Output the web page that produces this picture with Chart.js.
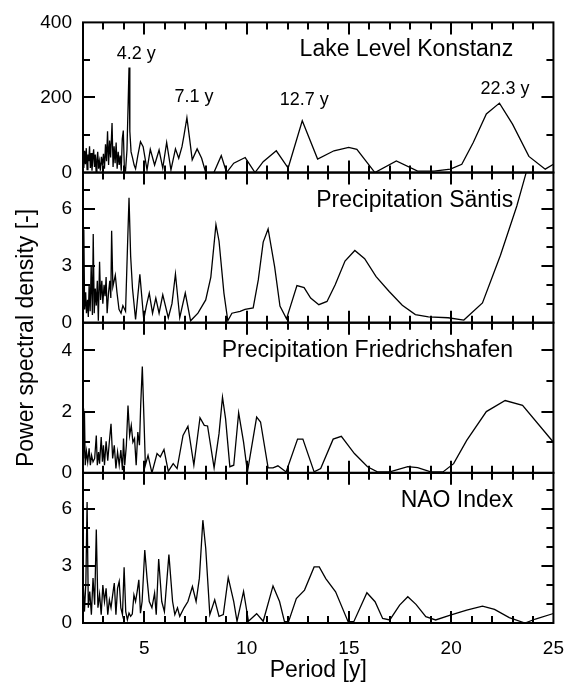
<!DOCTYPE html>
<html><head><meta charset="utf-8">
<script src="https://cdn.jsdelivr.net/npm/chart.js@4.4.1/dist/chart.umd.min.js"></script>
<style>html,body{margin:0;padding:0;background:#fff;}#wrap{position:relative;width:578px;height:686px;}</style>
</head><body><div id="wrap"><canvas id="c" width="578" height="686"></canvas></div>
<script>
// ---------- DATA ----------
const panelTitles = ['Lake Level Konstanz', 'Precipitation Säntis', 'Precipitation Friedrichshafen', 'NAO Index'];
const xTickLabels = [5, 10, 15, 20, 25];
const lakeTicks = [0, 200, 400];
const santisTicks = [0, 3, 6];
const friedTicks = [0, 2, 4];
const naoTicks = [0, 3, 6];
const peakLabels = ['4.2 y', '7.1 y', '12.7 y', '22.3 y'];

const lakePeriod = [2.00,2.04,2.08,2.12,2.16,2.20,2.24,2.28,2.32,2.36,2.40,2.44,2.48,2.52,2.56,2.60,2.64,2.68,2.72,2.76,2.80,2.85,2.90,2.95,3.00,3.05,3.10,3.15,3.20,3.25,3.30,3.35,3.42,3.47,3.52,3.57,3.62,3.67,3.72,3.77,3.82,3.87,3.92,3.97,4.02,4.08,4.15,4.21,4.25,4.29,4.35,4.42,4.50,4.57,4.68,4.81,4.94,5.13,5.29,5.50,5.72,5.90,6.09,6.30,6.52,6.68,6.84,6.94,7.08,7.21,7.34,7.58,7.80,8.00,8.40,8.76,9.02,9.37,9.93,10.41,10.81,11.45,12.03,12.72,13.47,14.27,14.99,15.39,16.27,17.32,18.36,19.16,19.96,20.52,21.08,21.72,22.36,23.00,23.80,24.60,25.00];
const lakePower  = [40,12,58,22,65,8,48,30,70,12,52,5,38,62,15,48,3,35,55,10,30,5,42,18,50,10,75,30,110,20,85,40,132,15,70,25,80,10,55,20,45,5,90,112,15,5,60,190,280,110,55,40,20,10,45,82,69,7,62,20,60,12,80,7,63,38,69,100,146,91,34,63,38,0,0,45,0,25,40,0,29,58,12,138,36,58,67,62,0,31,4,4,9,22,80,156,185,129,43,9,22];

const santisPeriod = [2.00,2.04,2.08,2.13,2.17,2.22,2.26,2.30,2.35,2.40,2.46,2.50,2.55,2.60,2.65,2.70,2.75,2.81,2.86,2.92,2.97,3.03,3.08,3.13,3.18,3.25,3.31,3.36,3.40,3.46,3.52,3.58,3.66,3.76,3.86,3.95,4.08,4.17,4.25,4.33,4.42,4.57,4.78,4.97,5.10,5.24,5.40,5.56,5.72,5.90,6.17,6.35,6.52,6.73,7.00,7.26,7.62,8.00,8.25,8.50,8.65,8.89,9.08,9.28,9.68,9.92,10.32,10.57,10.81,11.05,11.37,11.63,11.95,12.46,12.81,13.13,13.53,13.93,14.33,14.81,15.29,15.77,16.33,16.97,17.61,18.25,18.89,19.85,20.62,21.53,22.41,23.21,23.66,24.30];
const santisPower  = [2.9,4.9,0.7,1.6,0.5,1.2,0.3,2.0,0.6,3.0,0.4,4.67,0.5,1.8,0.9,2.2,0.1,3.2,1.2,2.2,1.0,2.0,1.4,2.4,0.5,1.6,2.2,1.3,4.84,1.9,2.2,2.5,1.6,0.7,0.5,0.9,0.6,3.8,6.57,3.5,1.8,0.17,2.54,0.17,0.9,1.56,0.5,1.3,0.5,1.47,0.26,1.0,2.56,0.26,1.56,0.1,0.5,1.2,2.4,5.16,4.3,1.56,0.1,0.5,0.6,0.7,0.78,2.25,4.24,4.93,2.94,0.87,0.2,1.95,1.85,1.3,0.95,1.12,2.0,3.24,3.8,3.37,2.42,1.64,0.92,0.43,0.31,0.26,0.14,1.04,3.55,6.14,7.87,10.0];

const friedPeriod = [2.00,2.03,2.07,2.11,2.17,2.23,2.30,2.36,2.42,2.49,2.57,2.65,2.70,2.76,2.81,2.89,2.95,3.00,3.05,3.13,3.21,3.29,3.37,3.45,3.53,3.61,3.69,3.77,3.85,3.93,3.98,4.04,4.12,4.20,4.28,4.36,4.44,4.52,4.60,4.68,4.76,4.82,4.90,4.98,5.05,5.18,5.37,5.62,5.78,5.96,6.17,6.41,6.60,6.89,7.13,7.42,7.72,7.93,8.09,8.41,8.65,8.82,8.97,9.18,9.37,9.61,9.85,10.04,10.49,10.68,11.05,11.29,11.53,11.93,12.49,12.75,13.30,13.62,14.23,14.63,15.27,15.91,16.39,17.00,17.88,18.36,19.00,19.60,20.12,20.76,21.72,22.64,23.49,25.00];
const friedPower  = [2.1,0.47,2.0,0.25,0.7,0.36,0.8,0.25,0.57,0.36,0.47,1.22,0.25,0.68,0.3,1.17,0.36,0.9,0.25,1.03,0.4,1.03,1.6,0.47,0.9,0.14,0.68,0.25,0.74,0.09,1.12,0.25,0.9,2.2,1.22,1.55,1.0,1.12,0.25,1.33,0.9,2.2,3.47,1.77,0.25,0.57,0.0,0.63,0.52,0.76,0.05,0.3,0.14,1.22,1.52,0.25,1.8,1.55,1.53,0.16,1.28,2.47,1.77,0.2,0.25,1.96,1.0,0.03,1.82,1.66,0.16,0.16,0.23,0.03,1.1,1.1,0.03,0.14,1.1,1.19,0.63,0.2,0.03,0.03,0.2,0.17,0.03,0.03,0.3,1.06,2.0,2.36,2.2,1.0];

const naoPeriod = [2.01,2.07,2.14,2.20,2.26,2.33,2.41,2.49,2.57,2.65,2.73,2.81,2.89,2.97,3.05,3.13,3.21,3.29,3.37,3.45,3.53,3.61,3.69,3.77,3.85,3.93,4.01,4.09,4.17,4.25,4.33,4.41,4.49,4.57,4.65,4.73,4.81,4.89,5.02,5.13,5.24,5.37,5.50,5.58,5.70,5.85,5.98,6.20,6.38,6.49,6.62,6.73,6.94,7.13,7.35,7.53,7.69,7.86,8.00,8.20,8.44,8.65,8.86,9.10,9.37,9.53,9.85,10.09,10.49,10.81,11.29,11.61,11.85,12.05,12.43,12.83,13.30,13.55,13.87,14.35,14.96,15.24,15.88,16.28,16.65,17.00,17.48,17.88,18.28,18.76,19.24,19.96,20.76,21.53,22.12,22.84,23.61,24.12,25.00];
const naoPower  = [2.2,0.6,2.1,6.37,0.8,1.66,0.44,2.36,0.96,4.92,0.8,1.5,0.44,2.0,1.13,1.83,0.44,1.22,0.8,1.48,2.1,0.44,1.83,2.18,0.8,0.44,2.93,0.6,0.17,0.52,0.35,0.47,1.48,1.13,1.66,2.27,0.52,1.13,3.84,2.36,1.13,0.8,1.57,0.44,3.37,1.13,0.6,3.6,1.13,0.44,0.8,0.35,0.8,1.13,1.92,1.13,2.36,5.41,3.93,0.44,1.22,0.35,0.44,2.39,1.13,0.09,1.66,0.09,0.49,0.09,1.95,1.13,0.07,0.07,1.29,1.73,2.95,2.95,2.34,1.64,0.07,0.07,1.59,1.12,0.24,0.16,0.94,1.38,0.98,0.33,0.16,0.42,0.68,0.89,0.72,0.28,0.0,0.21,0.5];

// ---------- CHART ----------
const FONT = "'Liberation Sans', Arial, Helvetica, sans-serif";
const pts = (xs, ys) => xs.map((x, i) => ({x: x, y: ys[i]}));
const panels = [
  {id: 'y1', title: panelTitles[0], ticks: lakeTicks, max: 400, minor: 100, data: pts(lakePeriod, lakePower)},
  {id: 'y2', title: panelTitles[1], ticks: santisTicks, max: 7.9, minor: 1, data: pts(santisPeriod, santisPower)},
  {id: 'y3', title: panelTitles[2], ticks: friedTicks, max: 4.9, minor: 1, data: pts(friedPeriod, friedPower)},
  {id: 'y4', title: panelTitles[3], ticks: naoTicks, max: 7.9, minor: 1, data: pts(naoPeriod, naoPower)}
];
const peakPos = [[4.6, 302], [7.43, 189], [12.82, 179], [22.63, 208]];

const scales = {
  x: {
    type: 'linear', min: 2, max: 25,
    afterBuildTicks: (ax) => { ax.ticks = xTickLabels.map(v => ({value: v})); },
    afterFit: (ax) => { ax.height = 63; },
    grid: {display: false, drawTicks: false}, border: {display: false},
    ticks: {color: '#000', font: {family: FONT, size: 19}, padding: 14, maxRotation: 0, autoSkip: false},
    title: {display: true, text: 'Period [y]', color: '#000', font: {family: FONT, size: 23}, padding: {top: 0, bottom: 2}}
  }
};
// stacked axes: the last defined is placed on top, so define them bottom-up
panels.slice().reverse().forEach((p) => {
  scales[p.id] = {
    type: 'linear', position: 'left', stack: 'panels', stackWeight: 1,
    min: 0, max: p.max,
    afterBuildTicks: (ax) => { ax.ticks = p.ticks.map(v => ({value: v})); },
    afterFit: (ax) => { ax.width = 83; },
    grid: {display: false, drawTicks: false}, border: {display: false},
    ticks: {color: '#000', font: {family: FONT, size: 19}, padding: 11, autoSkip: false}
  };
});

const panelClip = {
  id: 'panelClip',
  beforeDatasetDraw(chart, args) {
    const ys = chart.scales[args.meta.yAxisID], xs = chart.scales.x, ctx = chart.ctx;
    ctx.save(); ctx.beginPath();
    ctx.rect(xs.left, ys.top, xs.right - xs.left, ys.bottom - ys.top); ctx.clip();
  },
  afterDatasetDraw(chart) { chart.ctx.restore(); }
};

const decor = {
  id: 'decor',
  afterDraw(chart) {
    const ctx = chart.ctx, xs = chart.scales.x;
    ctx.save();
    ctx.strokeStyle = '#000'; ctx.fillStyle = '#000';
    panels.forEach((p) => {
      const ys = chart.scales[p.id];
      // frame
      ctx.lineWidth = 2;
      ctx.strokeRect(xs.left, ys.top, xs.right - xs.left, ys.bottom - ys.top);
      // inward tick marks on all four sides
      ctx.lineWidth = 2;
      ctx.beginPath();
      for (let v = 3; v <= 24; v++) {
        const px = Math.round(xs.getPixelForValue(v));
        const len = v % 5 === 0 ? 12 : 7;
        ctx.moveTo(px, ys.top); ctx.lineTo(px, ys.top + len);
        ctx.moveTo(px, ys.bottom); ctx.lineTo(px, ys.bottom - len);
      }
      for (let v = p.minor; v < p.max - 1e-9; v += p.minor) {
        const py = Math.round(ys.getPixelForValue(v));
        const major = p.ticks.some(t => Math.abs(t - v) < 1e-6);
        const len = major ? 12 : 7;
        ctx.moveTo(xs.left, py); ctx.lineTo(xs.left + len, py);
        ctx.moveTo(xs.right, py); ctx.lineTo(xs.right - len, py);
      }
      ctx.stroke();
      // title
      ctx.font = '23px ' + FONT; ctx.textAlign = 'right'; ctx.textBaseline = 'alphabetic';
      ctx.fillText(p.title, xs.getPixelForValue(23.03), ys.top + 34);
    });
    // peak labels on first panel
    const y1 = chart.scales.y1;
    ctx.font = '18px ' + FONT; ctx.textAlign = 'center'; ctx.textBaseline = 'alphabetic';
    peakLabels.forEach((t, i) => {
      ctx.fillText(t, xs.getPixelForValue(peakPos[i][0]), y1.getPixelForValue(peakPos[i][1]));
    });
    // y title
    ctx.translate(27, 338); ctx.rotate(-Math.PI / 2);
    ctx.font = '23px ' + FONT; ctx.textAlign = 'center'; ctx.textBaseline = 'middle';
    ctx.fillText('Power spectral density [-]', 0, 0);
    ctx.restore();
  }
};

new Chart(document.getElementById('c'), {
  type: 'line',
  data: {datasets: panels.map(p => ({
    data: p.data, yAxisID: p.id, xAxisID: 'x',
    borderColor: '#000', borderWidth: 1.3, pointRadius: 0, tension: 0, fill: false
  }))},
  options: {
    responsive: false, animation: false, devicePixelRatio: 1,
    layout: {padding: {top: 20, right: 16, left: 0, bottom: 0}},
    plugins: {legend: {display: false}, tooltip: {enabled: false}},
    scales: scales
  },
  plugins: [panelClip, decor]
});
</script></body></html>
